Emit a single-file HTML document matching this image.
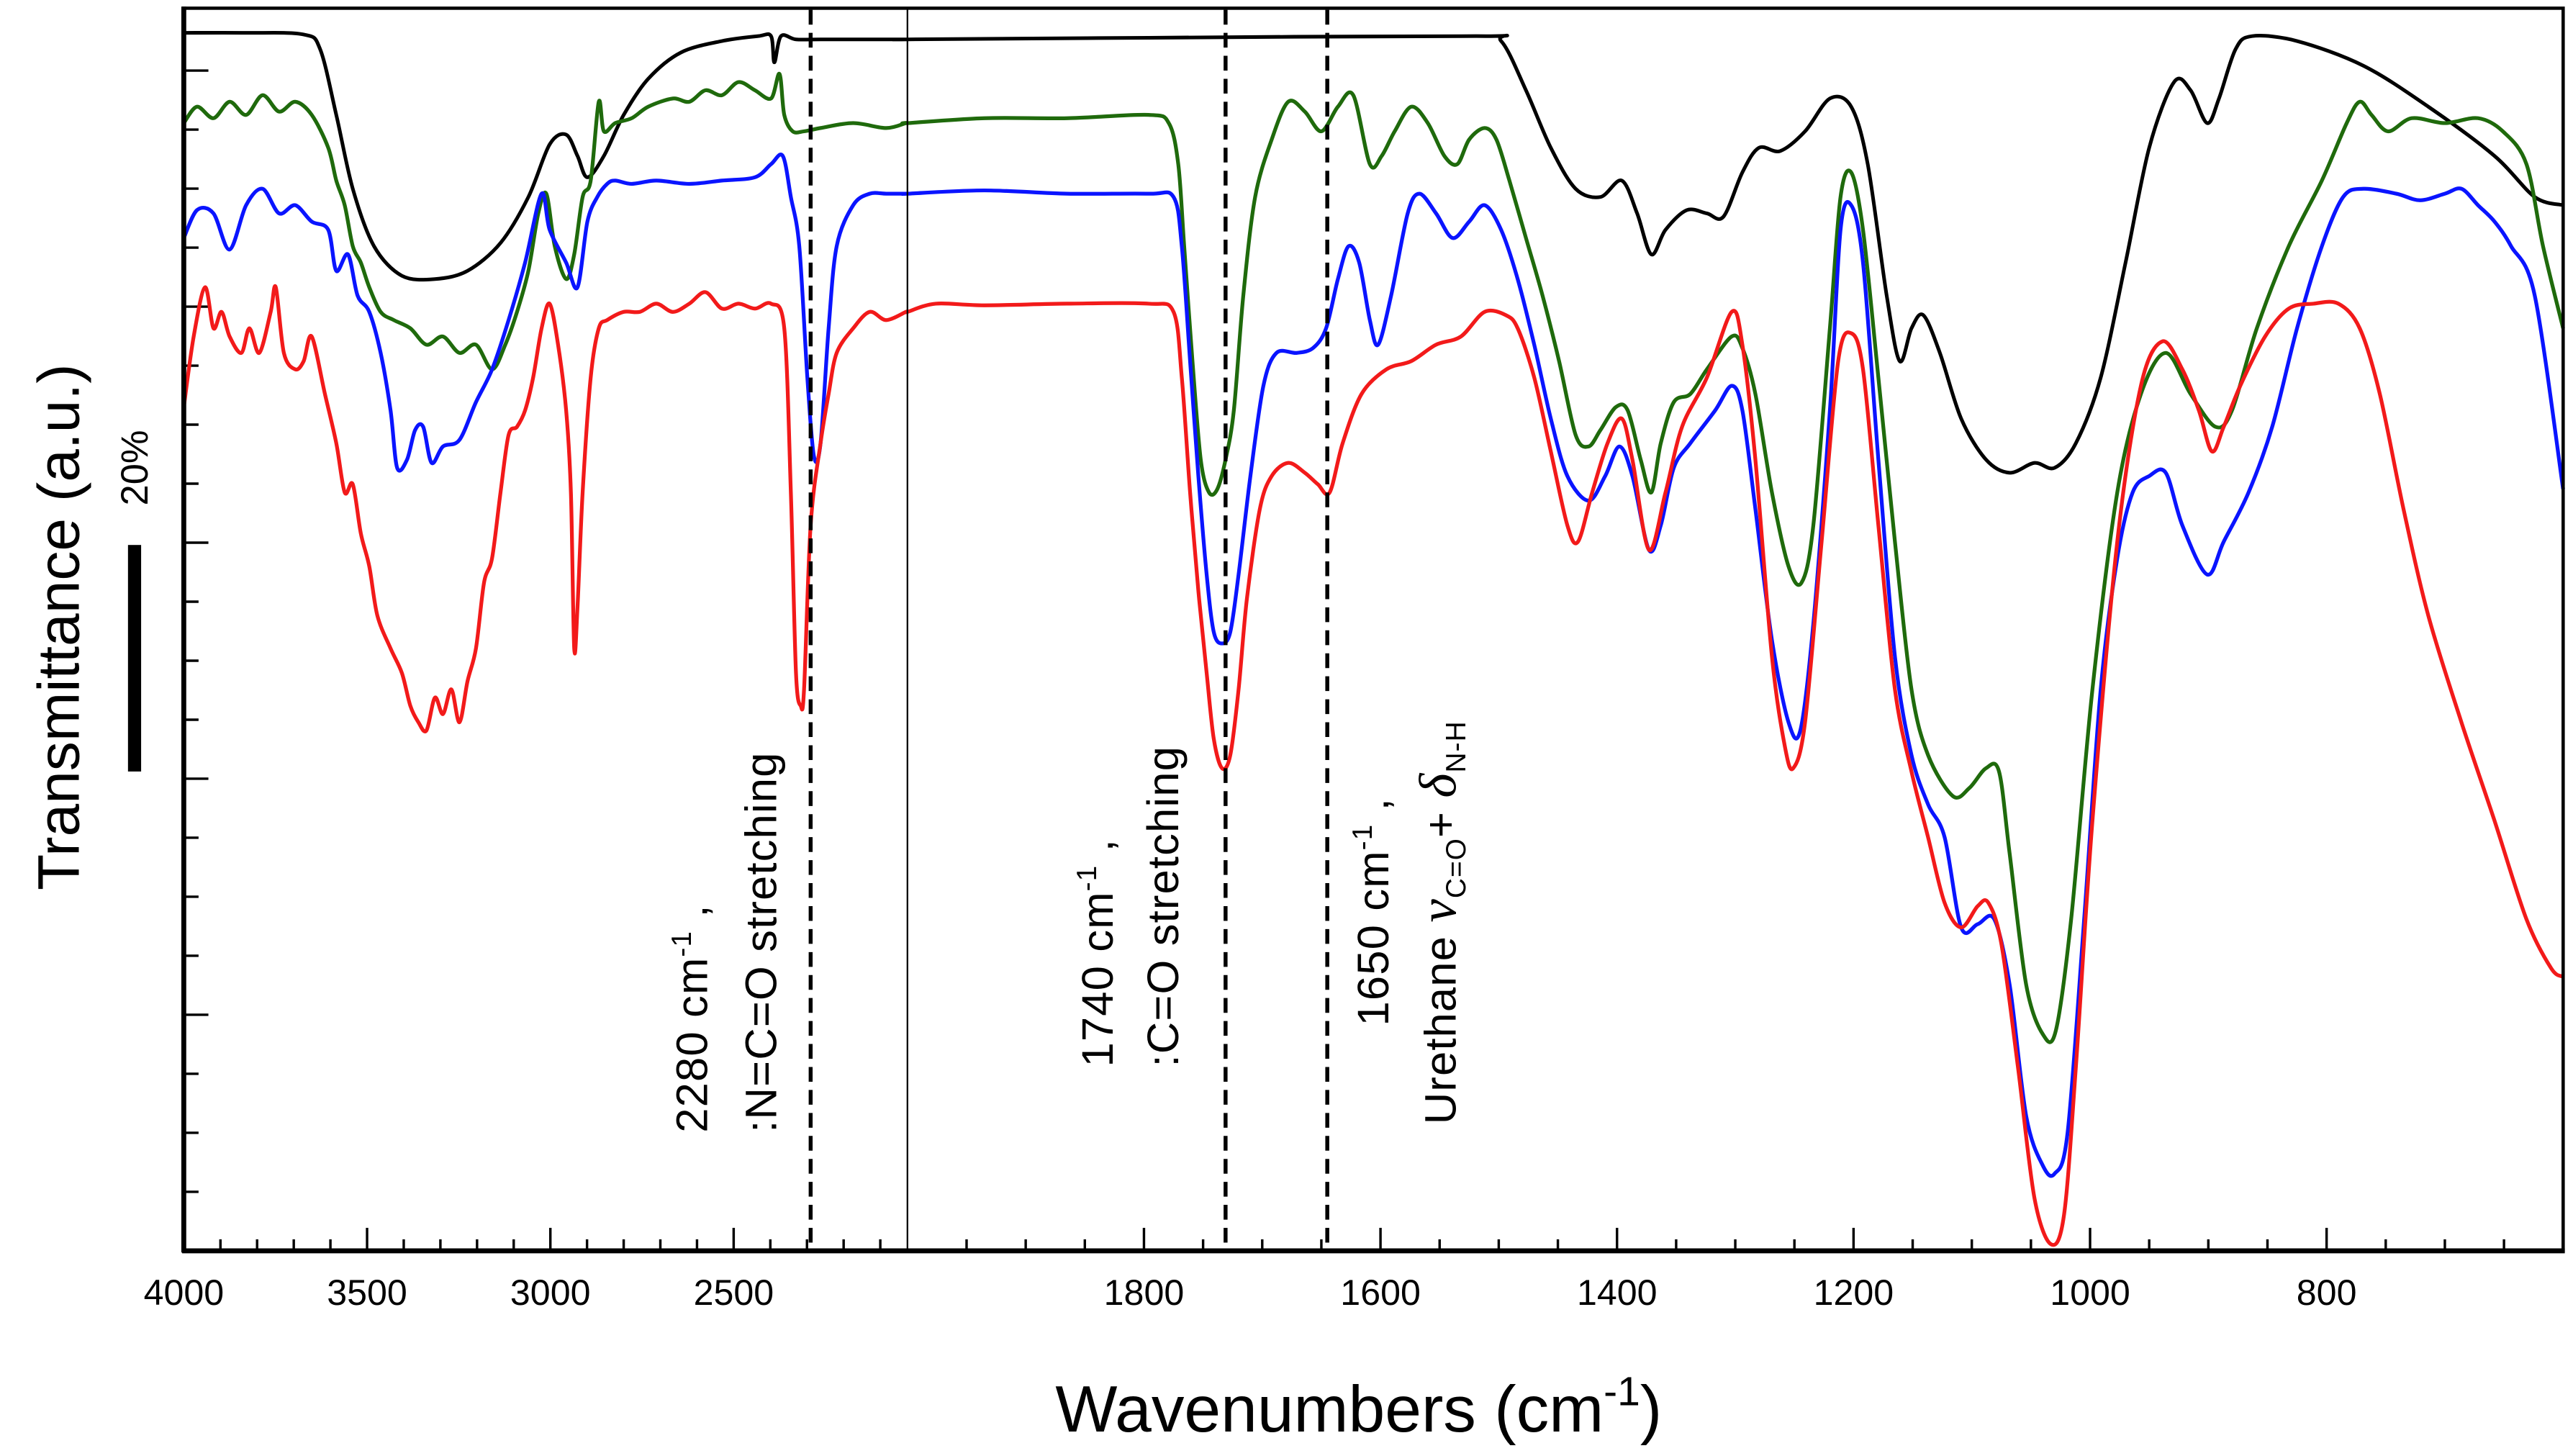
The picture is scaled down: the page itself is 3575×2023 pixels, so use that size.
<!DOCTYPE html>
<html><head><meta charset="utf-8"><style>
html,body{margin:0;padding:0;background:#fff;}
svg{display:block;}
text{font-family:"Liberation Sans",sans-serif;fill:#000;}
</style></head><body>
<svg id="chart" width="3575" height="2023" viewBox="0 0 1568 887" preserveAspectRatio="none" xmlns="http://www.w3.org/2000/svg">
<g id="ticks"></g>
<g id="series"></g>
<rect x="112" y="5" width="1450" height="757" fill="none" stroke="#000" stroke-width="2"/>
<line x1="112" y1="4" x2="112" y2="763" stroke="#000" stroke-width="3"/>
<line x1="111" y1="762" x2="1563" y2="762" stroke="#000" stroke-width="3"/>
<line x1="553" y1="5" x2="553" y2="762" stroke="#000" stroke-width="1"/>
<g id="dashes"></g>
<g id="xlabels"></g>
<text x="828" y="872" font-size="40" text-anchor="middle">Wavenumbers (cm<tspan font-size="25" dy="-16">-1</tspan><tspan dy="16">)</tspan></text>
<text transform="translate(48,382) rotate(-90)" font-size="36" text-anchor="middle">Transmittance (a.u.)</text>
<rect x="78" y="332" width="8" height="138" fill="#000"/>
<text transform="translate(90,308) rotate(-90)" font-size="23">20%</text>
<text transform="translate(431,690) rotate(-90)" font-size="27" letter-spacing="0.5">2280 cm<tspan font-size="17" dy="-10">-1</tspan><tspan dy="10"> ,</tspan></text>
<text transform="translate(473,690) rotate(-90)" font-size="27" letter-spacing="0.5">:N=C=O stretching</text>
<text transform="translate(678,650) rotate(-90)" font-size="27" letter-spacing="0.5">1740 cm<tspan font-size="17" dy="-10">-1</tspan><tspan dy="10"> ,</tspan></text>
<text transform="translate(718,650) rotate(-90)" font-size="27" letter-spacing="0.5">:C=O stretching</text>
<text transform="translate(846,625) rotate(-90)" font-size="27" letter-spacing="0.5">1650 cm<tspan font-size="17" dy="-10">-1</tspan><tspan dy="10"> ,</tspan></text>
<text transform="translate(887,685) rotate(-90)" font-size="27" letter-spacing="0.5">Urethane <tspan font-style="italic" font-family="Liberation Serif, serif" font-size="32">ν</tspan><tspan font-size="17" dy="6">C=O</tspan><tspan dy="-6">+ </tspan><tspan font-style="italic" font-family="Liberation Serif, serif" font-size="32">δ</tspan><tspan font-size="17" dy="6">N-H</tspan></text>
</svg>
<script>
const blackW=[4000,3830,3673,3628,3584,3539,3481,3405,3315,3226,3136,3060,3002,2957,2926,2899,2854,2800,2733,2644,2532,2433,2398,2389,2371,2330,2263,2030,2000,1796,1519,1498,1477,1456,1435,1414,1396,1383,1371,1359,1341,1324,1310,1294,1280,1262,1241,1220,1202,1188,1172,1161,1151,1141,1127,1109,1088,1068,1047,1030,1012,991,970,950,929,915,901,891,877,863,825,769,714,658,624,600];
const blackT=[742,742,741,732,692,647,612,594,592,597,614,642,674,680,667,654,667,692,714,730,737,740,740,724,740,738,738,738,738,739,740,737,707,672,647,642,652,632,607,622,634,632,630,657,672,670,682,702,697,662,582,542,562,570,547,507,482,474,480,477,492,532,602,672,712,707,687,702,732,740,737,722,697,667,642,637];
const greenW=[4000,3964,3919,3875,3830,3785,3740,3696,3651,3606,3584,3561,3539,3517,3494,3463,3427,3382,3338,3293,3248,3203,3159,3123,3091,3060,3033,3011,2988,2957,2935,2912,2890,2868,2854,2823,2778,2733,2666,2621,2577,2532,2487,2442,2398,2375,2362,2339,2308,2263,2174,2084,2030,
2000,1935,1865,1796,1779,1771,1766,1759,1752,1745,1738,1731,1724,1716,1706,1692,1678,1664,1650,1636,1623,1609,1599,1588,1574,1560,1546,1535,1525,1512,1502,1491,1477,1463,1449,1435,1424,1414,1401,1391,1380,1371,1363,1352,1338,1324,1303,1294,1283,1269,1255,1244,1234,1220,1211,1202,1192,1179,1165,1151,1137,1116,1102,1088,1077,1068,1054,1040,1029,1016,998,977,957,936,915,894,880,859,832,804,783,772,762,748,728,700,672,651,631,617,600];
const greenT=[687,697,690,700,692,704,694,700,692,672,652,637,612,602,587,572,567,562,552,557,547,552,537,552,572,597,632,644,612,592,607,642,652,700,682,687,690,697,702,700,707,704,712,707,702,717,692,682,682,684,687,684,687,
687,690,690,692,687,662,612,542,482,462,464,482,512,582,642,677,700,694,682,697,704,662,667,682,697,687,667,662,677,684,677,652,617,582,542,497,490,500,514,512,482,462,492,517,522,537,557,550,522,462,417,407,442,562,642,657,622,532,432,342,302,277,282,294,292,242,162,132,134,202,342,462,522,547,522,502,512,562,612,652,687,700,692,682,690,687,690,682,662,612,562];
const blueW=[4000,3964,3919,3875,3830,3785,3740,3696,3651,3606,3584,3552,3526,3494,3463,3436,3418,3391,3369,3347,3324,3293,3248,3203,3159,3114,3069,3024,3002,2957,2926,2899,2872,2845,2823,2778,2711,2621,2532,2442,2398,2366,2344,2321,2299,2281,2263,2241,2219,2174,2129,2084,2030,
2000,1935,1865,1796,1775,1768,1761,1754,1747,1741,1734,1727,1720,1710,1699,1688,1671,1657,1646,1636,1627,1618,1609,1602,1591,1577,1567,1553,1539,1525,1512,1498,1484,1470,1456,1442,1424,1410,1398,1387,1373,1363,1352,1338,1317,1303,1294,1283,1269,1255,1245,1234,1220,1211,1202,1192,1179,1165,1151,1137,1123,1109,1095,1081,1068,1054,1040,1030,1019,1005,991,977,964,950,936,922,901,887,866,846,825,804,786,769,741,721,700,686,672,658,644,624,600];
const blueT=[617,634,632,610,637,647,632,637,627,622,597,607,582,572,547,512,477,482,500,502,480,490,494,517,537,567,602,644,622,602,587,627,642,650,652,650,652,650,652,654,662,667,642,612,532,484,492,562,612,637,644,644,644,
644,646,644,644,642,612,542,472,412,377,370,377,412,472,527,547,547,550,562,592,612,602,567,552,582,632,644,632,617,627,637,622,592,552,507,472,457,472,490,472,427,442,477,492,512,527,512,452,372,322,317,382,512,622,637,602,482,362,302,272,252,197,199,202,162,82,52,47,72,202,342,422,462,472,474,442,412,432,462,502,562,612,642,647,644,640,644,647,637,627,612,582,464];
const redW=[4000,3973,3942,3919,3897,3875,3843,3821,3794,3763,3749,3727,3696,3673,3651,3615,3584,3561,3539,3517,3494,3472,3436,3405,3382,3360,3338,3315,3293,3270,3248,3226,3203,3181,3159,3136,3114,3091,3069,3047,3024,3002,2979,2957,2944,2935,2926,2912,2890,2868,2845,2800,2756,2711,2666,2621,2577,2532,2487,2442,2398,2362,2344,2330,2317,2308,2290,2263,2241,2219,2174,2129,2084,2030,
2000,1976,1935,1865,1796,1775,1768,1761,1754,1747,1741,1734,1727,1720,1713,1702,1692,1678,1664,1653,1643,1632,1616,1595,1574,1553,1532,1512,1494,1484,1470,1456,1442,1433,1421,1408,1396,1387,1373,1359,1345,1324,1303,1294,1283,1269,1258,1251,1241,1227,1213,1202,1192,1179,1165,1151,1137,1123,1109,1095,1086,1075,1061,1047,1033,1022,1012,998,977,957,939,922,908,897,887,873,852,832,811,790,772,755,735,714,686,658,631,610,600];
const redT=[514,557,587,562,572,557,547,562,547,572,587,547,537,542,557,522,492,462,467,437,417,387,367,352,332,322,317,337,327,342,322,347,367,407,422,462,497,502,512,532,562,577,552,512,462,367,392,462,532,562,567,572,572,577,572,577,584,574,577,574,577,562,462,352,332,342,442,492,522,547,562,572,567,572,
572,577,576,577,577,572,532,462,402,352,312,294,302,342,397,452,472,480,474,467,462,492,522,537,542,552,557,572,570,562,532,487,442,432,462,492,507,482,427,462,502,532,572,552,482,362,307,294,322,432,542,559,537,442,342,292,252,212,197,210,212,187,112,32,4,22,112,262,432,527,554,537,512,487,502,527,557,574,577,577,562,522,452,387,322,262,202,172,167];
const leftMajorTicks=[4000,3500,3000,2500];
const rightMajorTicks=[1800,1600,1400,1200,1000,800];
const markerLines=[2290,1731,1645];

const NS='http://www.w3.org/2000/svg';
function xOf(w){return w>2015 ? 112+(4000-w)*0.2234 : 553+(2000-w)*0.7207;}
function yOf(t){return 762-t;}
function mk(tag,attrs,parent){const e=document.createElementNS(NS,tag);for(const k in attrs)e.setAttribute(k,attrs[k]);parent.appendChild(e);return e;}
function pathFrom(W,T){
  const p=W.map((w,i)=>[xOf(w),yOf(T[i])]);
  let d='M'+p[0][0].toFixed(2)+','+p[0][1].toFixed(2);
  for(let i=0;i<p.length-1;i++){
    const p0=p[Math.max(0,i-1)],p1=p[i],p2=p[i+1],p3=p[Math.min(p.length-1,i+2)];
    const t=0.16;
    const c1=[p1[0]+(p2[0]-p0[0])*t,p1[1]+(p2[1]-p0[1])*t];
    const c2=[p2[0]-(p3[0]-p1[0])*t,p2[1]-(p3[1]-p1[1])*t];
    d+='C'+c1[0].toFixed(2)+','+c1[1].toFixed(2)+' '+c2[0].toFixed(2)+','+c2[1].toFixed(2)+' '+p2[0].toFixed(2)+','+p2[1].toFixed(2);
  }
  return d;
}
const sg=document.getElementById('series');
const defs=[['black-spectrum',blackW,blackT,'#000000',2.2],['green-spectrum',greenW,greenT,'#1f6a0c',2.3],['blue-spectrum',blueW,blueT,'#0a14ff',2.3],['red-spectrum',redW,redT,'#f21a1a',2.3]];
defs.forEach(s=>{
  const el=mk('path',{d:pathFrom(s[1],s[2]),fill:'none',stroke:s[3],'stroke-width':s[4],'stroke-linejoin':'round'},sg);
  
  
});
const tg=document.getElementById('ticks');
const lg=document.getElementById('xlabels');
for(let w=3900;w>=2100;w-=100){
  const major=leftMajorTicks.indexOf(w)>=0; const x=xOf(w);
  const t=mk('line',{x1:x,x2:x,y1:762,y2:major?748:755,stroke:'#000','stroke-width':1.5},tg);
  
  
}
for(let w=1950;w>600;w-=50){
  const major=rightMajorTicks.indexOf(w)>=0; const x=xOf(w);
  const t=mk('line',{x1:x,x2:x,y1:762,y2:major?748:755,stroke:'#000','stroke-width':1.5},tg);
  
  
}
leftMajorTicks.concat(rightMajorTicks).forEach(w=>{
  const t=mk('text',{x:xOf(w),y:795,'font-size':22,'text-anchor':'middle'},lg);
  t.textContent=String(w);
  
  
});
for(let y=43;y<762;y+=35.95){
  const k=Math.round((y-43)/35.95); const major=k%4===0;
  const t=mk('line',{x1:112,x2:major?127:121,y1:y,y2:y,stroke:'#000','stroke-width':1.5},tg);
  
  
}
const dg=document.getElementById('dashes');
markerLines.forEach(w=>{
  const x=xOf(w);
  const l=mk('line',{x1:x,x2:x,y1:6,y2:762,stroke:'#000','stroke-width':2.4,'stroke-dasharray':'9,5'},dg);
  
  
});
</script>
</body></html>
